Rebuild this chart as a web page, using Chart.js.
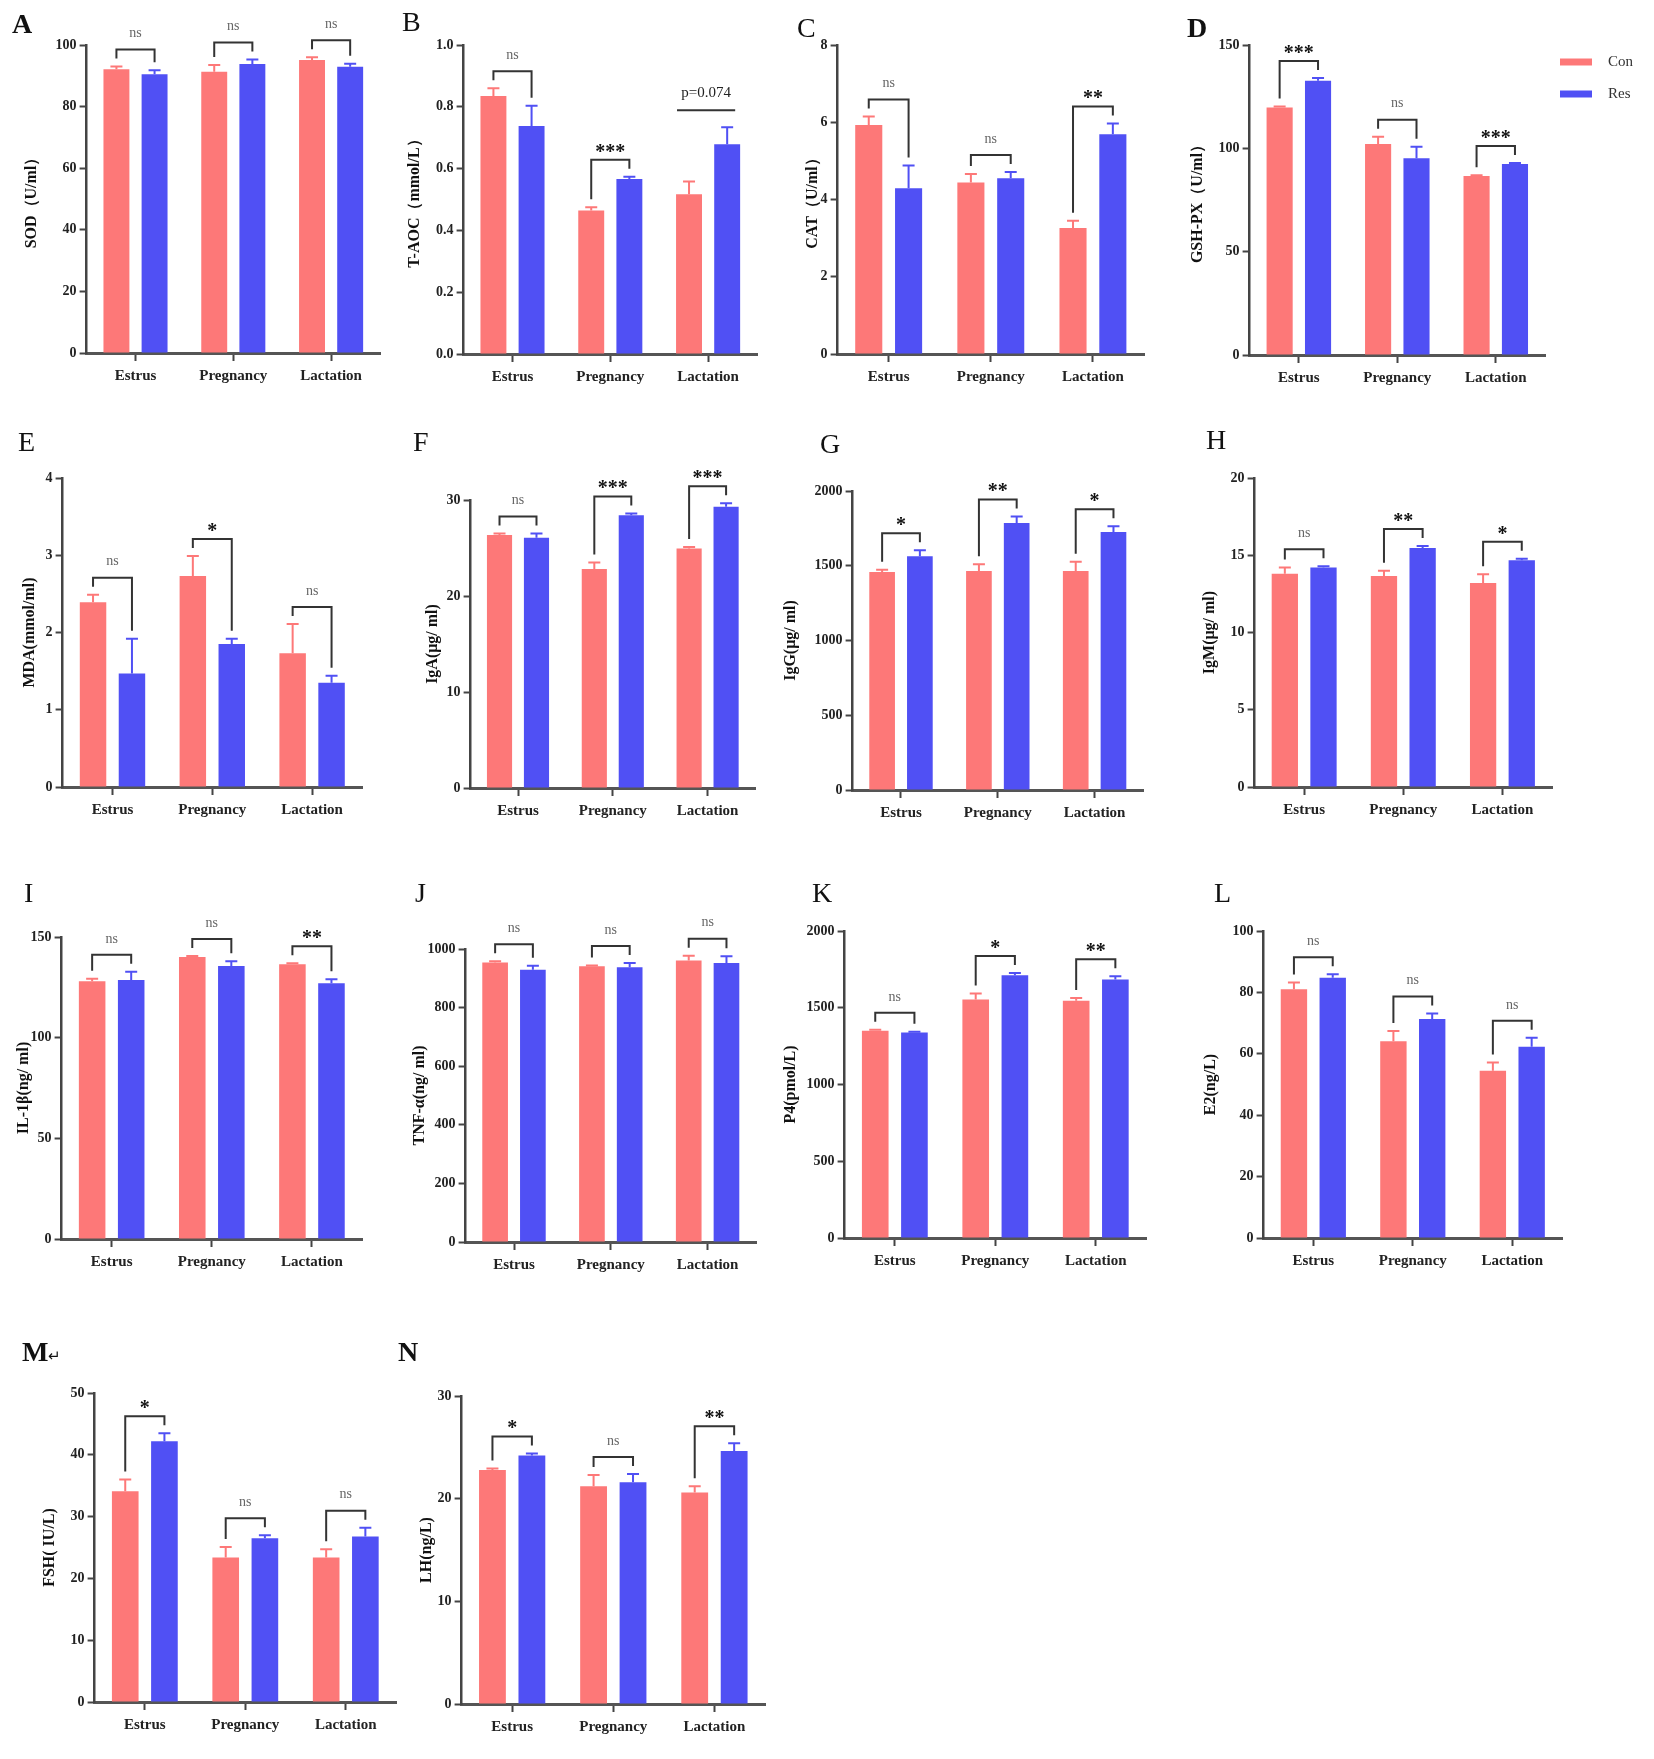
<!DOCTYPE html>
<html>
<head>
<meta charset="utf-8">
<script src="https://cdn.jsdelivr.net/npm/chart.js@4.4.1/dist/chart.umd.min.js"></script>
<style>
  body { margin: 0; background: #fff; }
  #page { position: relative; width: 1654px; height: 1759px; overflow: hidden; }
  .panel { position: absolute; }
  .tag { position: absolute; font-family: "Liberation Serif", serif; font-size: 28px; line-height: 1; color: #111; }
  .tag small { font-size: 15px; font-weight: normal; }
</style>
</head>
<body>
<div id="page"></div>
<script>
// groups and series
const groups = ['Estrus', 'Pregnancy', 'Lactation'];
const seriesNames = ['Con', 'Res'];
const conColor = '#fd7878';
const resColor = '#5050f4';

// A - SOD
const sodTicks = [0, 20, 40, 60, 80, 100];
const sodCon = [92.1, 91.3, 95.1];
const sodConErr = [0.9, 2.2, 0.9];
const sodRes = [90.5, 93.8, 92.9];
const sodResErr = [1.3, 1.5, 1.0];
const sodSig = ['ns', 'ns', 'ns'];

// B - T-AOC
const taocTicks = [0, 0.2, 0.4, 0.6, 0.8, 1.0];
const taocCon = [0.835, 0.464, 0.517];
const taocConErr = [0.025, 0.011, 0.041];
const taocRes = [0.738, 0.566, 0.679];
const taocResErr = [0.065, 0.008, 0.055];
const taocSig = ['ns', '***', 'p=0.074'];

// C - CAT
const catTicks = [0, 2, 4, 6, 8];
const catCon = [5.93, 4.44, 3.26];
const catConErr = [0.22, 0.22, 0.19];
const catRes = [4.29, 4.55, 5.69];
const catResErr = [0.59, 0.16, 0.28];
const catSig = ['ns', 'ns', '**'];

// D - GSH-PX
const gshTicks = [0, 50, 100, 150];
const gshCon = [119.8, 102.1, 86.6];
const gshConErr = [0.5, 3.5, 0.4];
const gshRes = [132.7, 95.2, 92.4];
const gshResErr = [1.3, 5.6, 0.5];
const gshSig = ['***', 'ns', '***'];

// E - MDA
const mdaTicks = [0, 1, 2, 3, 4];
const mdaCon = [2.39, 2.73, 1.73];
const mdaConErr = [0.10, 0.26, 0.38];
const mdaRes = [1.47, 1.85, 1.35];
const mdaResErr = [0.45, 0.07, 0.09];
const mdaSig = ['ns', '*', 'ns'];

// F - IgA
const igaTicks = [0, 10, 20, 30];
const igaCon = [26.35, 22.8, 24.96];
const igaConErr = [0.15, 0.7, 0.15];
const igaRes = [26.07, 28.4, 29.3];
const igaResErr = [0.45, 0.2, 0.35];
const igaSig = ['ns', '***', '***'];

// G - IgG
const iggTicks = [0, 500, 1000, 1500, 2000];
const iggCon = [1459, 1465, 1465];
const iggConErr = [15, 45, 61];
const iggRes = [1563, 1786, 1726];
const iggResErr = [41, 44, 38];
const iggSig = ['*', '**', '*'];

// H - IgM
const igmTicks = [0, 5, 10, 15, 20];
const igmCon = [13.8, 13.66, 13.2];
const igmConErr = [0.4, 0.34, 0.57];
const igmRes = [14.2, 15.47, 14.67];
const igmResErr = [0.08, 0.13, 0.1];
const igmSig = ['ns', '**', '*'];

// I - IL-1β
const il1Ticks = [0, 50, 100, 150];
const il1Con = [128, 140.1, 136.5];
const il1ConErr = [1.3, 0.5, 0.5];
const il1Res = [128.6, 135.6, 127];
const il1ResErr = [4.1, 2.4, 2];
const il1Sig = ['ns', 'ns', '**'];

// J - TNF-α
const tnfTicks = [0, 200, 400, 600, 800, 1000];
const tnfCon = [954, 941, 961];
const tnfConErr = [4, 3, 16];
const tnfRes = [929, 938, 952];
const tnfResErr = [14, 14, 23];
const tnfSig = ['ns', 'ns', 'ns'];

// K - P4
const p4Ticks = [0, 500, 1000, 1500, 2000];
const p4Con = [1350, 1554, 1545];
const p4ConErr = [6, 39, 19];
const p4Res = [1339, 1712, 1684];
const p4ResErr = [5, 15, 21];
const p4Sig = ['ns', '*', '**'];

// L - E2
const e2Ticks = [0, 20, 40, 60, 80, 100];
const e2Con = [81, 64.1, 54.5];
const e2ConErr = [2.2, 3.3, 2.7];
const e2Res = [84.8, 71.3, 62.3];
const e2ResErr = [1.1, 1.8, 2.9];
const e2Sig = ['ns', 'ns', 'ns'];

// M - FSH
const fshTicks = [0, 10, 20, 30, 40, 50];
const fshCon = [34.1, 23.4, 23.4];
const fshConErr = [1.9, 1.7, 1.3];
const fshRes = [42.2, 26.5, 26.8];
const fshResErr = [1.3, 0.5, 1.4];
const fshSig = ['*', 'ns', 'ns'];

// N - LH
const lhTicks = [0, 10, 20, 30];
const lhCon = [22.8, 21.2, 20.6];
const lhConErr = [0.15, 1.1, 0.6];
const lhRes = [24.2, 21.6, 24.65];
const lhResErr = [0.2, 0.8, 0.75];
const lhSig = ['*', 'ns', '**'];

// panel layout: plot box [left, right, top(max tick), bottom(zero)] in page pixels
const panels = [
    { tag: 'A', bold: true, tagAt: [12, 10], box: [87, 380, 45, 353], titleOff: 55, title: 'SOD（U/ml）', ticks: sodTicks, con: sodCon, conErr: sodConErr, res: sodRes, resErr: sodResErr, sig: sodSig },
    { tag: 'B', tagAt: [402, 8], box: [464, 757, 45, 354], titleOff: 49, title: 'T-AOC（mmol/L）', ticks: taocTicks, con: taocCon, conErr: taocConErr, res: taocRes, resErr: taocResErr, sig: taocSig },
    { tag: 'C', tagAt: [797, 14], box: [838, 1144, 45, 354], titleOff: 25, title: 'CAT（U/ml）', ticks: catTicks, con: catCon, conErr: catConErr, res: catRes, resErr: catResErr, sig: catSig },
    { tag: 'D', bold: true, tagAt: [1187, 14], box: [1250, 1545, 45, 355], titleOff: 52, title: 'GSH-PX（U/ml）', ticks: gshTicks, con: gshCon, conErr: gshConErr, res: gshRes, resErr: gshResErr, sig: gshSig, legend: true },
    { tag: 'E', tagAt: [18, 428], box: [63, 362, 478, 787], titleOff: 33, title: 'MDA(mmol/ml)', ticks: mdaTicks, con: mdaCon, conErr: mdaConErr, res: mdaRes, resErr: mdaResErr, sig: mdaSig },
    { tag: 'F', tagAt: [413, 428], box: [471, 755, 500, 788], titleOff: 38, title: 'IgA(μg/ ml)', ticks: igaTicks, con: igaCon, conErr: igaConErr, res: igaRes, resErr: igaResErr, sig: igaSig },
    { tag: 'G', tagAt: [820, 430], box: [853, 1143, 491, 790], titleOff: 62, title: 'IgG(μg/ ml)', ticks: iggTicks, con: iggCon, conErr: iggConErr, res: iggRes, resErr: iggResErr, sig: iggSig },
    { tag: 'H', tagAt: [1206, 426], box: [1255, 1552, 478, 787], titleOff: 45, title: 'IgM(μg/ ml)', ticks: igmTicks, con: igmCon, conErr: igmConErr, res: igmRes, resErr: igmResErr, sig: igmSig },
    { tag: 'I', tagAt: [24, 879], box: [62, 362, 937, 1239], titleOff: 38, title: 'IL-1β(ng/ ml)', ticks: il1Ticks, con: il1Con, conErr: il1ConErr, res: il1Res, resErr: il1ResErr, sig: il1Sig },
    { tag: 'J', tagAt: [415, 879], box: [466, 756, 949, 1242], titleOff: 46, title: 'TNF-α(ng/ ml)', ticks: tnfTicks, con: tnfCon, conErr: tnfConErr, res: tnfRes, resErr: tnfResErr, sig: tnfSig },
    { tag: 'K', tagAt: [812, 879], box: [845, 1146, 931, 1238], titleOff: 54, title: 'P4(pmol/L)', ticks: p4Ticks, con: p4Con, conErr: p4ConErr, res: p4Res, resErr: p4ResErr, sig: p4Sig },
    { tag: 'L', tagAt: [1214, 879], box: [1264, 1562, 931, 1238], titleOff: 53, title: 'E2(ng/L)', ticks: e2Ticks, con: e2Con, conErr: e2ConErr, res: e2Res, resErr: e2ResErr, sig: e2Sig },
    { tag: 'M', bold: true, mark: '↵', tagAt: [22, 1338], box: [95, 396, 1393, 1702], titleOff: 45, title: 'FSH( IU/L)', ticks: fshTicks, con: fshCon, conErr: fshConErr, res: fshRes, resErr: fshResErr, sig: fshSig },
    { tag: 'N', bold: true, tagAt: [398, 1338], box: [462, 765, 1396, 1704], titleOff: 35, title: 'LH(ng/L)', ticks: lhTicks, con: lhCon, conErr: lhConErr, res: lhRes, resErr: lhResErr, sig: lhSig }
];

const serif = '"Liberation Serif", "Times New Roman", serif';
const padTop = 60;
const axisHeight = 45;

// upward error bars with a cap
const errorBars = {
    id: 'errorBars',
    afterDatasetsDraw(chart) {
        const ctx = chart.ctx;
        const yScale = chart.scales.y;
        chart.data.datasets.forEach((ds, i) => {
            chart.getDatasetMeta(i).data.forEach((bar, j) => {
                const top = yScale.getPixelForValue(ds.data[j] + ds.errors[j]);
                ctx.save();
                ctx.strokeStyle = ds.backgroundColor;
                ctx.lineWidth = 2;
                ctx.beginPath();
                ctx.moveTo(bar.x, bar.y);
                ctx.lineTo(bar.x, top);
                ctx.moveTo(bar.x - 6, top);
                ctx.lineTo(bar.x + 6, top);
                ctx.stroke();
                ctx.restore();
            });
        });
    }
};

// significance brackets above each pair
const sigBrackets = {
    id: 'sigBrackets',
    afterDraw(chart, args, opts) {
        const labels = opts.labels;
        if (!labels) return;
        const ctx = chart.ctx;
        const yScale = chart.scales.y;
        const [d0, d1] = chart.data.datasets;
        const m0 = chart.getDatasetMeta(0).data;
        const m1 = chart.getDatasetMeta(1).data;
        labels.forEach((lab, j) => {
            const t0 = yScale.getPixelForValue(d0.data[j] + d0.errors[j]);
            const t1 = yScale.getPixelForValue(d1.data[j] + d1.errors[j]);
            const by = Math.min(t0, t1) - 17;
            const x0 = m0[j].x;
            const x1 = m1[j].x;
            ctx.save();
            ctx.strokeStyle = '#333';
            ctx.lineWidth = 2;
            ctx.beginPath();
            if (lab.startsWith('p')) {
                ctx.moveTo(x0 - 12, by);
                ctx.lineTo(x1 + 8, by);
            } else {
                ctx.moveTo(x0, Math.max(t0 - 8, by + 6));
                ctx.lineTo(x0, by);
                ctx.lineTo(x1, by);
                ctx.lineTo(x1, Math.max(t1 - 8, by + 6));
            }
            ctx.stroke();
            ctx.textAlign = 'center';
            const cx = (x0 + x1) / 2;
            if (lab.startsWith('*')) {
                ctx.font = 'bold 20px ' + serif;
                ctx.fillStyle = '#111';
                ctx.textBaseline = 'alphabetic';
                ctx.fillText(lab, cx, by - 2);
            } else if (lab === 'ns') {
                ctx.font = '14px ' + serif;
                ctx.fillStyle = '#666';
                ctx.textBaseline = 'middle';
                ctx.fillText(lab, cx, by - 16);
            } else {
                ctx.font = '15px ' + serif;
                ctx.fillStyle = '#222';
                ctx.textBaseline = 'middle';
                ctx.fillText(lab, cx - 2, by - 17);
            }
            ctx.restore();
        });
    }
};

// legend drawn to the right of the plot (panel D only)
const sideLegend = {
    id: 'sideLegend',
    afterDraw(chart, args, opts) {
        if (!opts.show) return;
        const ctx = chart.ctx;
        const area = chart.chartArea;
        chart.data.datasets.forEach((ds, i) => {
            const y = area.top + 17 + i * 32;
            ctx.save();
            ctx.strokeStyle = ds.backgroundColor;
            ctx.lineWidth = 7;
            ctx.beginPath();
            ctx.moveTo(area.right + 15, y);
            ctx.lineTo(area.right + 47, y);
            ctx.stroke();
            ctx.font = '15px ' + serif;
            ctx.fillStyle = '#333';
            ctx.textBaseline = 'middle';
            ctx.fillText(ds.label, area.right + 63, y);
            ctx.restore();
        });
    }
};

function buildPanel(p) {
    const page = document.getElementById('page');
    const [L, R, T, B] = p.box;
    const yWidth = p.titleOff + 9.6;
    const padRight = p.legend ? 110 : 10;
    const w = Math.round(yWidth + (R - L) + padRight);
    const h = padTop + (B - T) + axisHeight;

    const holder = document.createElement('div');
    holder.className = 'panel';
    holder.style.left = (L - yWidth) + 'px';
    holder.style.top = (T - padTop) + 'px';
    const canvas = document.createElement('canvas');
    canvas.width = w;
    canvas.height = h;
    canvas.style.width = w + 'px';
    canvas.style.height = h + 'px';
    holder.appendChild(canvas);
    page.appendChild(holder);

    const tag = document.createElement('div');
    tag.className = 'tag';
    tag.style.left = p.tagAt[0] + 'px';
    tag.style.top = p.tagAt[1] + 'px';
    tag.style.fontWeight = p.bold ? 'bold' : 'normal';
    tag.innerHTML = p.tag + (p.mark ? '<small>' + p.mark + '</small>' : '');
    page.appendChild(tag);

    const decimals = p.ticks.some(v => !Number.isInteger(v));

    new Chart(canvas, {
        type: 'bar',
        data: {
            labels: groups,
            datasets: [
                { label: seriesNames[0], data: p.con, errors: p.conErr, backgroundColor: conColor },
                { label: seriesNames[1], data: p.res, errors: p.resErr, backgroundColor: resColor }
            ]
        },
        options: {
            responsive: false,
            animation: false,
            devicePixelRatio: 1,
            layout: { padding: { top: padTop, right: padRight, left: 0, bottom: 0 } },
            datasets: { bar: { categoryPercentage: 0.78, barPercentage: 0.68, borderWidth: 0 } },
            scales: {
                x: {
                    afterFit: s => { s.height = axisHeight; },
                    ticks: { font: { family: serif, size: 15, weight: 'bold' }, color: '#222', padding: 6, maxRotation: 0 },
                    grid: { display: true, offset: false, drawOnChartArea: false, drawTicks: true, tickLength: 8, tickWidth: 2, tickColor: '#444' },
                    border: { display: true, color: '#555', width: 3 }
                },
                y: {
                    min: p.ticks[0],
                    max: p.ticks[p.ticks.length - 1],
                    afterBuildTicks: s => { s.ticks = p.ticks.map(v => ({ value: v })); },
                    afterFit: s => { s.width = yWidth; },
                    ticks: {
                        font: { family: serif, size: 14, weight: 'bold' },
                        color: '#222',
                        padding: 3,
                        callback: v => decimals ? Number(v).toFixed(1) : v
                    },
                    grid: { display: true, drawOnChartArea: false, drawTicks: true, tickLength: 7, tickWidth: 2, tickColor: '#444' },
                    border: { display: true, color: '#444', width: 2.5 },
                    title: { display: true, text: p.title, font: { family: serif, size: 16, weight: 'bold' }, color: '#111', padding: 0 }
                }
            },
            plugins: {
                legend: { display: false },
                tooltip: { enabled: false },
                sigBrackets: { labels: p.sig },
                sideLegend: { show: !!p.legend }
            }
        },
        plugins: [errorBars, sigBrackets, sideLegend]
    });
}

panels.forEach(buildPanel);
</script>
</body>
</html>
